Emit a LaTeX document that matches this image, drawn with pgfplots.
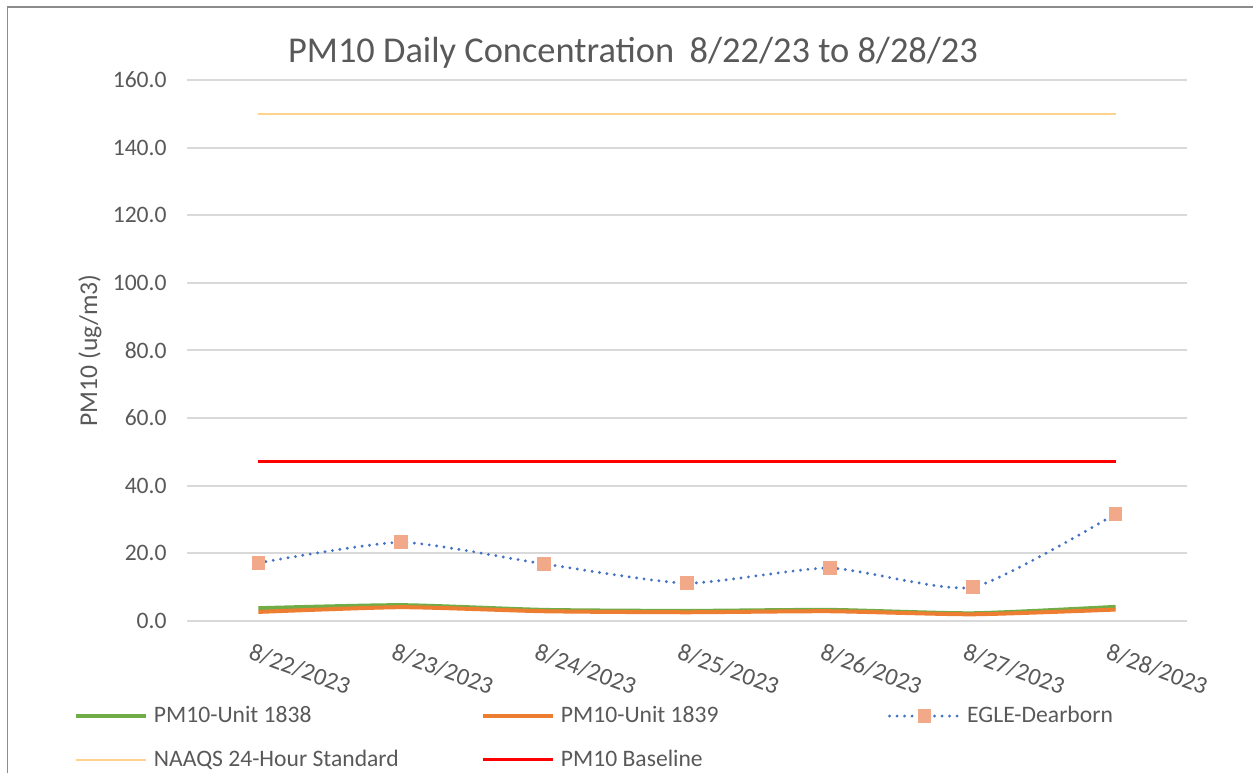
\documentclass[border=0pt]{standalone}
\usepackage{fontspec}
\setmainfont{Carlito}
\usepackage{pgfplots}
\usepackage{pgfplotstable}
\pgfplotsset{compat=1.18}
\definecolor{txt}{HTML}{595959}
\definecolor{gridc}{HTML}{D9D9D9}
\definecolor{brd}{HTML}{8C8C8C}
\definecolor{cgreen}{HTML}{70AD47}
\definecolor{corange}{HTML}{ED7D31}
\definecolor{cblue}{HTML}{4472C4}
\definecolor{cmark}{HTML}{F1A98A}
\definecolor{cnaaqs}{HTML}{FFD38C}
\definecolor{cred}{HTML}{FF0000}
\pgfplotstableread{
x u1838 u1839 egle naaqs base
0 3.7 2.6 17.1 150 47.1
1 4.6 4.0 23.2 150 47.1
2 3.2 2.8 16.8 150 47.1
3 2.9 2.5 11.1 150 47.1
4 3.2 2.8 15.6 150 47.1
5 2.2 1.9 9.9 150 47.1
6 4.1 3.3 31.6 150 47.1
}\data
\newcommand{\lt}[1]{\makebox[163.5pt][l]{#1}}
\begin{document}
\begin{tikzpicture}
\useasboundingbox (0pt,0pt) rectangle (626.5pt,386.5pt);
\draw[color=brd, line width=0.7pt] (3.6pt,0pt) -- (3.6pt,382.9pt) -- (626.5pt,382.9pt);
\begin{axis}[
  at={(93.5pt,76.15pt)}, anchor=south west,
  scale only axis, width=500pt, height=270.35pt,
  xmin=-0.5, xmax=6.5, ymin=0, ymax=160,
  xtick={0,...,6},
  xticklabels={8/22/2023,8/23/2023,8/24/2023,8/25/2023,8/26/2023,8/27/2023,8/28/2023},
  ytick={0,20,...,160},
  ymajorgrids,
  grid style={color=gridc, line width=1pt},
  axis line style={draw=none},
  major tick length=0pt,
  /pgf/number format/assume math mode=true,
  yticklabel={\pgfmathprintnumber[fixed,fixed zerofill,precision=1]{\tick}},
  ticklabel style={font=\fontsize{11.8}{14}\selectfont, text=txt},
  yticklabel style={anchor=east, inner sep=0pt, xshift=-10pt},
  xticklabel style={rotate=-20, anchor=north west, inner sep=0pt, yshift=-11pt, xshift=1.2pt, font=\fontsize{12.2}{14}\selectfont},
  title={PM10 Daily Concentration\hspace{0.2em} 8/22/23 to 8/28/23},
  title style={font=\fontsize{18.2}{21.6}\selectfont, text=txt, at={(axis description cs:0.446,1.029)}, anchor=center},
  ylabel={PM10 (ug/m3)},
  every axis y label/.style={at={(axis description cs:-0.097,0.5)}, rotate=90, anchor=center, font=\fontsize{12.8}{15}\selectfont, text=txt},
  legend columns=3,
  legend cell align=left,
  legend image code/.code={\draw[mark repeat=2,mark phase=2,#1] plot coordinates {(0pt,0pt) (17.5pt,0pt) (35pt,0pt)};},
  legend style={at={(axis description cs:-0.113,-0.151)}, anchor=north west, draw=none, fill=none,
    inner sep=0pt, outer sep=0pt, font=\fontsize{11.8}{14}\selectfont, text=txt, row sep=8.2pt,
    nodes={inner xsep=0pt, inner ysep=2pt},
    /tikz/every odd column/.append style={column sep=3pt},
    /tikz/every even column/.append style={column sep=0pt}},
]
\addplot[color=cgreen, line width=2pt, smooth, tension=0.35, no marks] table[x=x,y=u1838]{\data};
\addlegendentry{\lt{PM10-Unit 1838}}
\addplot[color=corange, line width=2pt, smooth, tension=0.35, no marks] table[x=x,y=u1839]{\data};
\addlegendentry{\lt{PM10-Unit 1839}}
\addplot[color=cblue, line width=1.6pt, line cap=round, dash pattern=on 0pt off 3.75pt, smooth, tension=0.35,
  mark=square*, mark size=3.2pt, mark options={solid, draw=cmark, fill=cmark, line width=0pt}] table[x=x,y=egle]{\data};
\addlegendentry{\lt{EGLE-Dearborn}}
\addplot[color=cnaaqs, line width=1pt, no marks] table[x=x,y=naaqs]{\data};
\addlegendentry{\lt{NAAQS 24-Hour Standard}}
\addplot[color=cred, line width=1.5pt, no marks] table[x=x,y=base]{\data};
\addlegendentry{\lt{PM10 Baseline}}
\end{axis}
\end{tikzpicture}
\end{document}
